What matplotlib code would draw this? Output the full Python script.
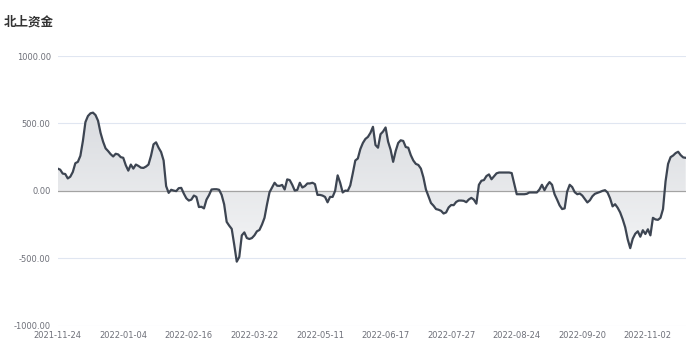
import numpy as np
import matplotlib
matplotlib.use("Agg")
import matplotlib.pyplot as plt
from matplotlib.path import Path
from matplotlib.colors import LinearSegmentedColormap

# 北上资金 (net northbound flow), one value per trading day
flow = [
    165, 157, 128, 125, 92, 105, 140, 205, 215, 260,
    370, 510, 555, 575, 580, 562, 520, 430, 365, 315,
    295, 272, 255, 275, 270, 250, 245, 190, 150, 195,
    165, 195, 185, 172, 170, 180, 195, 260, 345, 360,
    320, 288, 225, 35, -15, 8, 2, -2, 20, 22,
    -20, -55, -72, -65, -35, -45, -120, -118, -130, -65,
    -32, 10, 12, 12, 8, -30, -100, -230, -258, -282,
    -400, -525, -490, -330, -308, -350, -357, -350, -330, -300,
    -290, -250, -200, -100, -10, 25, 60, 38, 37, 44,
    10, 85, 80, 45, 2, 7, 60, 25, 35, 55,
    55, 60, 50, -30, -30, -35, -45, -85, -45, -45,
    0, 115, 60, -12, 2, 0, 40, 130, 225, 240,
    310, 355, 385, 400, 430, 475, 340, 320, 420, 440,
    470, 365, 305, 215, 295, 355, 375, 370, 325, 320,
    265, 225, 200, 192, 165, 100, 10, -40, -90, -110,
    -135, -140, -148, -168, -160, -123, -105, -106, -82, -72,
    -72, -74, -84, -64, -52, -65, -95, 45, 75, 80,
    110, 122, 86, 108, 130, 136, 136, 136, 136, 136,
    132, 55, -25, -25, -25, -25, -22, -12, -12, -12,
    -12, 10, 45, 5, 40, 65, 45, -25, -65, -108,
    -135, -130, -5, 45, 28, -10, -25, -20, -35, -60,
    -86, -70, -40, -22, -15, -8, 0, 5, -12, -55,
    -115, -99, -125, -160, -210, -270, -360, -425, -355, -318,
    -300, -340, -292, -320, -285, -330, -200, -212, -215, -200,
    -135, 70, 200, 250, 262, 280, 290, 265, 248, 245,
]

date_labels = ["2021-11-24", "2022-01-04", "2022-02-16", "2022-03-22", "2022-05-11",
               "2022-06-17", "2022-07-27", "2022-08-24", "2022-09-20", "2022-11-02"]
label_step = 26

y_ticks = [-1000, -500, 0, 500, 1000]
y_labels = ["-1000.00", "-500.00", "0.00", "500.00", "1000.00"]


if __name__ == '__main__':
    x = np.arange(len(flow))
    y = np.array(flow, dtype=float)

    fig = plt.figure(figsize=(7, 3.5), dpi=100)
    ax = fig.add_axes([0.0824, 0.0694, 0.8972, 0.7706])

    ax.set_xlim(0, len(flow) - 1)
    ax.set_ylim(-1000, 1000)

    # grid lines
    for v in y_ticks:
        if v != 0:
            ax.axhline(v, color="#e0e6f1", lw=0.8, zorder=0)
    ax.axhline(0, color="#a3a3a3", lw=0.9, zorder=3)

    # gradient area between the line and zero
    cmap = LinearSegmentedColormap.from_list("area", ["#ffffff", "#d0d3d8"])
    grad = np.linspace(0, 1, 256).reshape(-1, 1)
    img = ax.imshow(grad, cmap=cmap, origin="lower", aspect="auto",
                    extent=(0, len(flow) - 1, -1000, 1000), zorder=1)
    verts = [(0, 0)] + list(zip(x, y)) + [(len(flow) - 1, 0), (0, 0)]
    clip = Path(verts, closed=True)
    img.set_clip_path(clip, transform=ax.transData)

    ax.plot(x, y, color="#3d4552", lw=1.6, zorder=4, solid_joinstyle="round")

    for s in ax.spines.values():
        s.set_visible(False)

    ax.set_xticks(x[::label_step][:len(date_labels)])
    ax.set_xticklabels(date_labels)
    ax.set_yticks(y_ticks)
    ax.set_yticklabels(y_labels)
    ax.tick_params(axis="both", length=0, labelsize=6, labelcolor="#6e7079")
    ax.tick_params(axis="x", pad=4)
    ax.tick_params(axis="y", pad=5)

    fig.text(0.006, 0.937, "北上资金", fontsize=9, fontweight="bold", color="#333333",
             family=["Noto Sans CJK SC", "DejaVu Sans"], va="center", ha="left")

    fig.savefig("out.png", dpi=100, facecolor="white")
